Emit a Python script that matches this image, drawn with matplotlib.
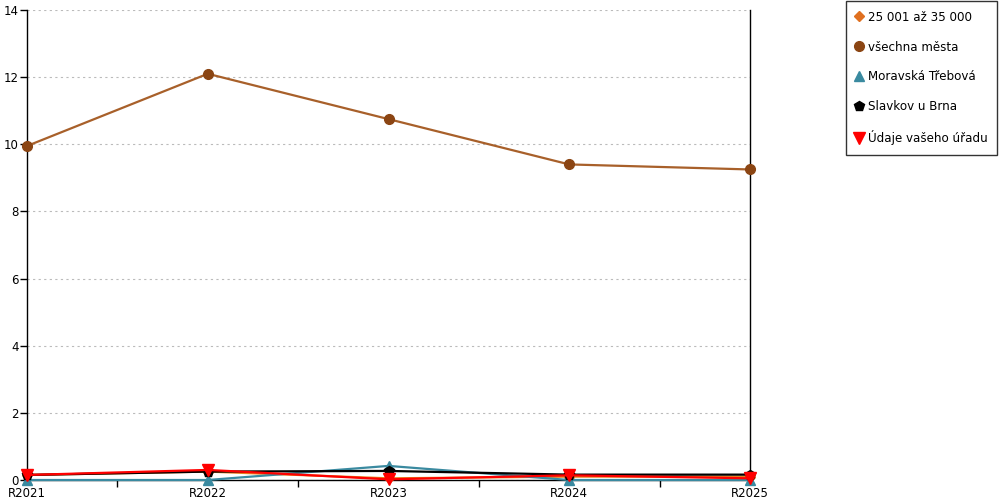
import numpy as np
import matplotlib.pyplot as plt
from matplotlib.lines import Line2D

years = ['R2021', 'R2022', 'R2023', 'R2024', 'R2025']
names = ['25 001 až 35 000', 'všechna města', 'Moravská Třebová',
         'Slavkov u Brna', 'Údaje vašeho úřadu']
v_size = [0.15, 0.25, 0.05, 0.1, 0.1]
v_all = [9.95, 12.1, 10.75, 9.4, 9.25]
v_mt = [0.0, 0.0, 0.42, 0.0, 0.0]
v_slavkov = [0.15, 0.25, 0.27, 0.16, 0.16]
v_urad = [0.15, 0.3, 0.02, 0.14, 0.05]

series = [v_size, v_all, v_mt, v_slavkov, v_urad]
line_cols = ['#E8801E', '#A8602A', '#3A8AA0', '#000000', '#FF0000']
mark_cols = ['#E07020', '#8B4513', '#3A8AA0', '#000000', '#FF0000']
markers = ['D', 'o', '^', 'p', 'v']
msizes = [5.5, 7, 7.5, 7.5, 8]

plt.rcParams['font.family'] = ['DejaVu Sans']
fig = plt.figure(figsize=(10, 5), dpi=100)
ax = fig.add_axes([0.027, 0.04, 0.723, 0.94])

x = np.arange(len(years))
for i in range(len(series)):
    ax.plot(x, series[i], color=line_cols[i], lw=1.6, marker=markers[i],
            ms=msizes[i], mfc=mark_cols[i], mec=mark_cols[i], zorder=3 + i,
            clip_on=False)

ax.set_xlim(0, 4)
ax.set_ylim(0, 14)
ax.set_yticks(np.arange(0, 15, 2))
ax.set_xticks(x)
ax.set_xticklabels(years)
ax.set_xticks(x[:-1] + 0.5, minor=True)
ax.tick_params(axis='x', which='major', length=0, pad=5, labelsize=8.5)
ax.tick_params(axis='x', which='minor', length=5, width=1)
ax.tick_params(axis='y', length=5, width=1, pad=1, labelsize=8.5)
ax.grid(axis='y', linestyle=(0, (2, 3)), color='#bbbbbb', lw=0.8)
ax.set_axisbelow(True)
for s in ['left', 'right', 'bottom']:
    ax.spines[s].set_color('black')
    ax.spines[s].set_linewidth(1)
ax.spines['top'].set_visible(False)

handles = [Line2D([], [], ls='none', marker=markers[i], color=mark_cols[i],
                  ms=msizes[i]) for i in range(len(names))]
leg = fig.legend(handles, names, loc='upper right', bbox_to_anchor=(0.997, 0.998),
                 frameon=True, fancybox=False, fontsize=8.6, labelspacing=1.42,
                 handlelength=0.6, handletextpad=0.4, borderpad=0.8,
                 borderaxespad=0, edgecolor='black')
leg.get_frame().set_linewidth(1)

plt.savefig('out.png')
